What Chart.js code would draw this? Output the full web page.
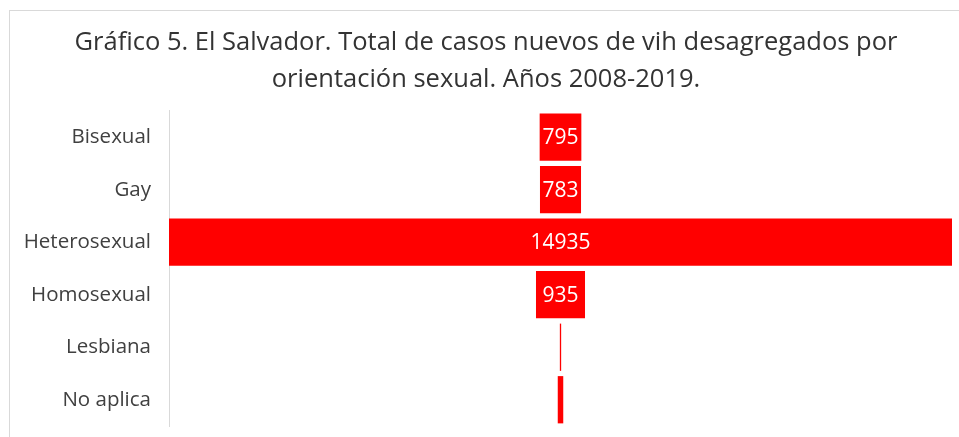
<!DOCTYPE html>
<html>
<head>
<meta charset="utf-8">
<script src="https://cdn.jsdelivr.net/npm/chart.js@4"></script>
<style>
  html, body { margin: 0; padding: 0; background: #ffffff; }
  #wrap { position: relative; width: 959px; height: 437px; overflow: hidden; background: #fff; }
  #frame { position: absolute; left: 9px; top: 10px; width: 1100px; height: 600px; border: 1px solid #d9d9d9; box-sizing: border-box; }
  canvas { position: absolute; left: 0; top: 0; }
</style>
</head>
<body>
<div id="wrap">
  <div id="frame"></div>
  <canvas id="c" width="959" height="437"></canvas>
</div>
<script>
const titleLines = [
  "Gráfico 5. El Salvador. Total de casos nuevos de vih desagregados por",
  "orientación sexual. Años 2008-2019."
];
const categories = ["Bisexual", "Gay", "Heterosexual", "Homosexual", "Lesbiana", "No aplica"];
const casos = [795, 783, 14935, 935, 25, 105];
const showLabel = [true, true, true, true, false, false];

const maxVal = Math.max(...casos);
const funnelData = casos.map(v => [-v / 2, v / 2]);

const labelPlugin = {
  id: 'funnelLabels',
  afterDatasetsDraw(chart) {
    const ctx = chart.ctx;
    const meta = chart.getDatasetMeta(0);
    ctx.save();
    ctx.fillStyle = '#ffffff';
    ctx.font = '21px "Open Sans"';
    ctx.textAlign = 'center';
    ctx.textBaseline = 'middle';
    meta.data.forEach((bar, i) => {
      if (!showLabel[i]) return;
      const x = (bar.x + bar.base) / 2;
      ctx.fillText(String(casos[i]), x, bar.y + 1);
    });
    ctx.restore();
  }
};

new Chart(document.getElementById('c'), {
  type: 'bar',
  data: {
    labels: categories,
    datasets: [{
      data: funnelData,
      backgroundColor: '#ff0000',
      borderWidth: 0,
      borderSkipped: false,
      categoryPercentage: 1,
      barPercentage: 0.9
    }]
  },
  options: {
    indexAxis: 'y',
    responsive: false,
    animation: false,
    layout: { padding: { top: 24, left: 20, right: 7, bottom: 11 } },
    plugins: {
      legend: { display: false },
      tooltip: { enabled: false },
      title: {
        display: true,
        text: titleLines,
        color: '#333333',
        font: { family: '"Open Sans"', size: 25.5, weight: 'normal', lineHeight: 1.45 },
        padding: { top: 0, bottom: 13 }
      }
    },
    scales: {
      x: {
        display: false,
        min: -maxVal / 2,
        max: maxVal / 2
      },
      y: {
        afterFit(scale) { scale.width = 149; },
        grid: { display: true, drawOnChartArea: false, drawTicks: true, tickLength: 18, color: 'rgba(0,0,0,0)' },
        border: { display: true, color: '#d9d9d9', width: 1 },
        ticks: {
          color: '#404040',
          padding: 0,
          font: { family: '"Open Sans"', size: 20.5, lineHeight: 1.0 }
        }
      }
    }
  },
  plugins: [labelPlugin]
});
</script>
</body>
</html>
